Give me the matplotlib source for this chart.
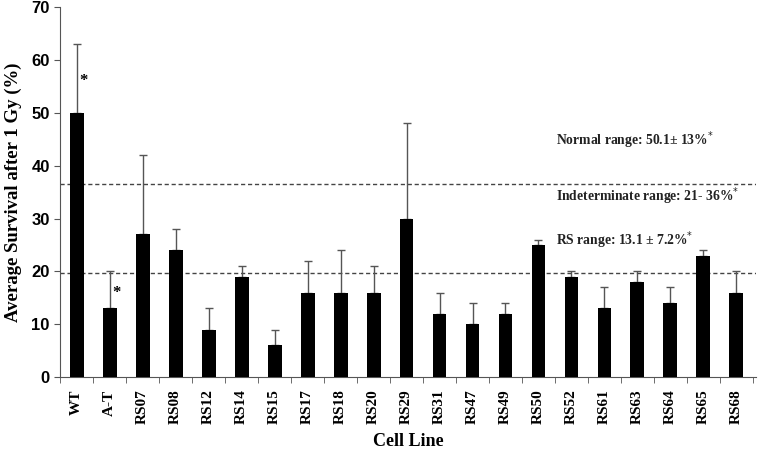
import matplotlib
matplotlib.use("Agg")
import matplotlib.pyplot as plt
import numpy as np
from matplotlib.ticker import FixedLocator

cells = ["WT", "A-T", "RS07", "RS08", "RS12", "RS14", "RS15", "RS17", "RS18", "RS20",
         "RS29", "RS31", "RS47", "RS49", "RS50", "RS52", "RS61", "RS63", "RS64", "RS65", "RS68"]
survival = [50, 13, 27, 24, 9, 19, 6, 16, 16, 16, 30, 12, 10, 12, 25, 19, 13, 18, 14, 23, 16]
err_upper = [13, 7, 15, 4, 4, 2, 3, 6, 8, 5, 18, 4, 4, 2, 1, 1, 4, 2, 3, 1, 4]
thresholds = [36.5, 19.7]
range_texts = ["Normal range: 50.1\u00b1 13%", "Indeterminate range: 21- 36%", "RS range: 13.1 \u00b1 7.2%"]
range_y = [44.8, 34.2, 25.9]
star_x = [0.08, 1.08]
star_y = [56.0, 16.0]

fig = plt.figure(figsize=(7.63, 4.5), dpi=100)
ax = fig.add_axes([0.079, 0.162, 0.912, 0.822])
x = np.arange(len(cells))
ax.bar(x, survival, width=0.42, color="black", zorder=3)
ax.errorbar(x, survival, yerr=[np.zeros(len(x)), err_upper], fmt="none",
            ecolor="#555555", elinewidth=1, capsize=3, capthick=1, zorder=2)

for t in thresholds:
    ax.axhline(t, color="#444444", linestyle=(0, (3, 2)), linewidth=1, zorder=1)

serif = "Liberation Serif"
for txt, yy in zip(range_texts, range_y):
    ax.text(14.53, yy, txt + "$^{*}$", fontsize=9.8, fontweight="bold", family=serif,
            va="center", ha="left", color="#222222")
for sx, sy in zip(star_x, star_y):
    ax.text(sx, sy, "*", fontsize=12, fontweight="bold", ha="left", va="center", family=serif)

ax.set_xlim(-0.5, 20.6)
ax.set_ylim(0, 70)
ax.set_yticks(range(0, 71, 10))
ax.set_xticks(x)
ax.set_xticklabels(cells, rotation=90, family=serif, fontweight="bold", fontsize=11)
ax.tick_params(axis="x", which="major", length=0, pad=9)
ax.xaxis.set_minor_locator(FixedLocator(np.arange(-0.5, 21, 1)))
ax.tick_params(axis="x", which="minor", length=4, direction="out", color="#555555")
ax.tick_params(axis="y", length=4, direction="out", color="#555555")
for lab in ax.get_yticklabels():
    lab.set_family("Liberation Sans")
    lab.set_fontweight("bold")
    lab.set_fontsize(12)
ax.spines["top"].set_visible(False)
ax.spines["right"].set_visible(False)
ax.spines["left"].set_color("#555555")
ax.spines["bottom"].set_color("#555555")
ax.set_ylabel("Average Survival after 1 Gy (%)", family=serif, fontweight="bold", fontsize=13.5, labelpad=7)
fig.text(408 / 763, 1 - 442 / 450, "Cell Line", family=serif, fontweight="bold", fontsize=13,
         ha="center", va="center")

fig.savefig("out.png", dpi=100)
